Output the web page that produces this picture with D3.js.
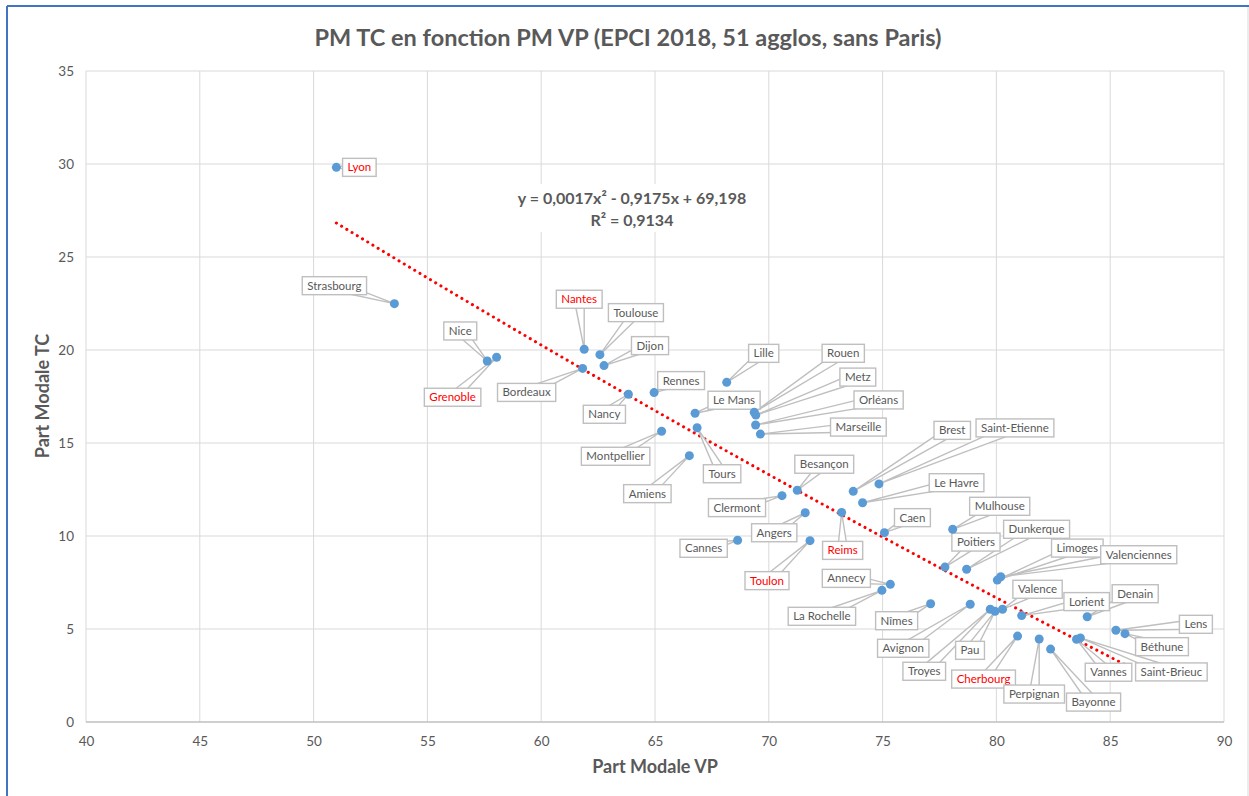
<!DOCTYPE html>
<html>
<head>
<meta charset="utf-8">
<script src="https://cdn.jsdelivr.net/npm/d3@7"></script>
<style>
    body { margin: 0; background: #fff; }
    svg { display: block; font-family: Lato, "Open Sans", sans-serif; }
</style>
</head>
<body>
<div id="chart"></div>
<script>
// ---------- data ----------
var cities = ["Lyon", "Strasbourg", "Nice", "Grenoble", "Nantes", "Toulouse", "Dijon", "Bordeaux", "Nancy", "Rennes",
    "Lille", "Le Mans", "Tours", "Montpellier", "Amiens", "Rouen", "Metz", "Orléans", "Marseille", "Besançon",
    "Clermont", "Angers", "Reims", "Cannes", "Toulon", "Annecy", "La Rochelle", "Nîmes", "Brest", "Saint-Etienne",
    "Le Havre", "Caen", "Mulhouse", "Poitiers", "Dunkerque", "Limoges", "Valenciennes", "Avignon", "Troyes", "Pau",
    "Valence", "Lorient", "Denain", "Cherbourg", "Perpignan", "Bayonne", "Vannes", "Saint-Brieuc", "Lens", "Béthune"];
var partVP = [51.0, 53.55, 57.63, 58.04, 61.89, 62.58, 62.76, 61.82, 63.83, 64.96,
    68.15, 66.76, 66.85, 65.29, 66.51, 69.36, 69.43, 69.42, 69.63, 71.25,
    70.58, 71.6, 73.2, 68.63, 71.81, 75.34, 74.97, 77.11, 73.71, 74.84,
    74.12, 75.08, 78.08, 77.74, 78.69, 80.04, 80.19, 78.85, 79.73, 79.94,
    80.27, 81.11, 83.99, 80.93, 81.88, 82.38, 83.52, 83.69, 85.25, 85.65];
var partTC = [29.82, 22.49, 19.41, 19.61, 20.04, 19.75, 19.16, 19.01, 17.62, 17.71,
    18.26, 16.6, 15.82, 15.63, 14.32, 16.65, 16.5, 15.97, 15.48, 12.46,
    12.17, 11.25, 11.27, 9.77, 9.75, 7.4, 7.08, 6.36, 12.4, 12.8,
    11.79, 10.18, 10.36, 8.33, 8.21, 7.63, 7.81, 6.33, 6.06, 5.95,
    6.06, 5.72, 5.66, 4.62, 4.46, 3.92, 4.45, 4.52, 4.93, 4.75];
var redCities = ["Lyon", "Nantes", "Grenoble", "Reims", "Toulon", "Cherbourg"];
var xTicks = [40, 45, 50, 55, 60, 65, 70, 75, 80, 85, 90];
var yTicks = [0, 5, 10, 15, 20, 25, 30, 35];
var trendCoef = [0.0017, -0.9175, 69.198]; // ax² + bx + c
var trendText = ["y = 0,0017x² - 0,9175x + 69,198", "R² = 0,9134"];

// callout placement (box centre relative to the point, in px)
var labelOffsets = {
    "Lyon": [23, 0], "Strasbourg": [-60, -18], "Nice": [-27, -30], "Grenoble": [-44, 40], "Nantes": [-5, -50],
    "Toulouse": [36, -42], "Dijon": [46, -20], "Bordeaux": [-56, 24], "Nancy": [-24, 20], "Rennes": [27, -12],
    "Lille": [37, -29], "Le Mans": [39, -13], "Tours": [25, 46], "Montpellier": [-46, 25], "Amiens": [-42, 38],
    "Rouen": [89, -59], "Metz": [102, -38], "Orléans": [123, -25], "Marseille": [98, -7], "Besançon": [27, -26],
    "Clermont": [-45, 12], "Angers": [-31, 20], "Reims": [1, 38], "Cannes": [-34, 8], "Toulon": [-43, 40],
    "Annecy": [-44, -6], "La Rochelle": [-60, 26], "Nîmes": [-34, 17], "Brest": [99, -61], "Saint-Etienne": [136, -56],
    "Le Havre": [94, -20], "Caen": [28, -15], "Mulhouse": [47, -23], "Poitiers": [31, -25], "Dunkerque": [70, -40],
    "Limoges": [80, -32], "Valenciennes": [138, -22], "Avignon": [-67, 44], "Troyes": [-66, 62], "Pau": [-25, 39],
    "Valence": [35, -20], "Lorient": [65, -14], "Denain": [48, -23], "Cherbourg": [-34, 43], "Perpignan": [-5, 55],
    "Bayonne": [43, 53], "Vannes": [32, 33], "Saint-Brieuc": [91, 34], "Lens": [80, -6], "Béthune": [37, 13]
};

// ---------- layout ----------
var W = 1249, H = 796;
var plot = { left: 86, right: 1224, top: 71, bottom: 722 };
var textGray = "#595959";

var svg = d3.select("#chart").append("svg")
    .attr("width", W)
    .attr("height", H);

// frame
svg.append("line").attr("x1", 7).attr("x2", W).attr("y1", 6).attr("y2", 6)
    .attr("stroke", "#4472C4").attr("stroke-width", 2);
svg.append("line").attr("x1", 7).attr("x2", 7).attr("y1", 6).attr("y2", H)
    .attr("stroke", "#4472C4").attr("stroke-width", 2);
svg.append("line").attr("x1", 1248).attr("x2", 1248).attr("y1", 7).attr("y2", H)
    .attr("stroke", "#D9D9D9").attr("stroke-width", 1);

var x = d3.scaleLinear().domain([40, 90]).range([plot.left, plot.right]);
var y = d3.scaleLinear().domain([0, 35]).range([plot.bottom, plot.top]);

// gridlines
svg.append("g")
    .selectAll("line.vgrid")
    .data(xTicks)
    .enter().append("line")
    .attr("x1", function (d) { return x(d); })
    .attr("x2", function (d) { return x(d); })
    .attr("y1", plot.top)
    .attr("y2", plot.bottom)
    .attr("stroke", "#D9D9D9")
    .attr("stroke-width", 1);
svg.append("g")
    .selectAll("line.hgrid")
    .data(yTicks)
    .enter().append("line")
    .attr("x1", plot.left)
    .attr("x2", plot.right)
    .attr("y1", function (d) { return y(d); })
    .attr("y2", function (d) { return y(d); })
    .attr("stroke", function (d) { return d === 0 ? "#BFBFBF" : "#D9D9D9"; })
    .attr("stroke-width", function (d) { return d === 0 ? 1.5 : 1; });

// axes (ticks only, lines drawn as grid)
var xAxis = svg.append("g")
    .attr("transform", "translate(0," + plot.bottom + ")")
    .call(d3.axisBottom(x).tickValues(xTicks).tickSize(0).tickPadding(14));
var yAxis = svg.append("g")
    .attr("transform", "translate(" + plot.left + ",0)")
    .call(d3.axisLeft(y).tickValues(yTicks).tickSize(0).tickPadding(12));
[xAxis, yAxis].forEach(function (a) {
    a.select(".domain").remove();
    a.selectAll("text")
        .attr("fill", textGray)
        .style("font-size", "13.5px")
        .style("font-family", "Lato, sans-serif");
});

// ---------- trendline ----------
var trend = function (v) { return trendCoef[0] * v * v + trendCoef[1] * v + trendCoef[2]; };
var xMin = d3.min(partVP), xMax = d3.max(partVP);
var trendPts = d3.range(0, 101).map(function (i) {
    var v = xMin + (xMax - xMin) * i / 100;
    return [v, trend(v)];
});
svg.append("path")
    .datum(trendPts)
    .attr("fill", "none")
    .attr("stroke", "#FF0000")
    .attr("stroke-width", 3)
    .attr("stroke-linecap", "round")
    .attr("stroke-dasharray", "0.1 6")
    .attr("d", d3.line()
        .x(function (d) { return x(d[0]); })
        .y(function (d) { return y(d[1]); }));

// equation label
var eq = svg.append("g");
eq.append("rect")
    .attr("x", 510).attr("y", 184).attr("width", 245).attr("height", 48)
    .attr("fill", "#fff");
eq.selectAll("text")
    .data(trendText)
    .enter().append("text")
    .attr("x", 632)
    .attr("y", function (d, i) { return 204 + i * 22; })
    .attr("text-anchor", "middle")
    .attr("fill", textGray)
    .style("font-size", "16px")
    .style("font-weight", "bold")
    .text(function (d) { return d; });

// ---------- callouts ----------
var points = cities.map(function (c, i) {
    return { name: c, vp: partVP[i], tc: partTC[i], off: labelOffsets[c] };
});

var leaders = svg.append("g");
var boxes = svg.append("g");

points.forEach(function (p) {
    var px = x(p.vp), py = y(p.tc);
    var cx = px + p.off[0], cy = py + p.off[1];

    var t = boxes.append("text")
        .attr("x", cx)
        .attr("y", cy + 4)
        .attr("text-anchor", "middle")
        .attr("fill", redCities.indexOf(p.name) >= 0 ? "#FF0000" : textGray)
        .style("font-size", "11.5px")
        .text(p.name);
    var bw = t.node().getComputedTextLength() + 10, bh = 18;
    boxes.insert("rect", function () { return t.node(); })
        .attr("x", cx - bw / 2)
        .attr("y", cy - bh / 2)
        .attr("width", bw)
        .attr("height", bh)
        .attr("fill", "#fff")
        .attr("stroke", "#BFBFBF")
        .attr("stroke-width", 1.4);

    // wedge from box centre to the point
    var dx = px - cx, dy = py - cy, len = Math.sqrt(dx * dx + dy * dy) || 1;
    var nx = -dy / len * 5, ny = dx / len * 5;
    leaders.append("path")
        .attr("d", "M" + (cx + nx) + "," + (cy + ny) + "L" + px + "," + py + "L" + (cx - nx) + "," + (cy - ny) + "Z")
        .attr("fill", "#fff")
        .attr("stroke", "#BFBFBF")
        .attr("stroke-width", 1.4)
        .attr("stroke-linejoin", "round");
});

// points
svg.append("g")
    .selectAll("circle")
    .data(points)
    .enter().append("circle")
    .attr("cx", function (d) { return x(d.vp); })
    .attr("cy", function (d) { return y(d.tc); })
    .attr("r", 4.5)
    .attr("fill", "#5B9BD5");

// ---------- titles ----------
svg.append("text")
    .attr("x", 628)
    .attr("y", 46)
    .attr("text-anchor", "middle")
    .attr("fill", textGray)
    .style("font-size", "23.5px")
    .style("font-weight", "bold")
    .text("PM TC en fonction PM VP (EPCI 2018, 51 agglos, sans Paris)");

svg.append("text")
    .attr("x", 655)
    .attr("y", 773)
    .attr("text-anchor", "middle")
    .attr("fill", textGray)
    .style("font-size", "18px")
    .style("font-weight", "bold")
    .text("Part Modale VP");

svg.append("text")
    .attr("transform", "translate(49,396) rotate(-90)")
    .attr("text-anchor", "middle")
    .attr("fill", textGray)
    .style("font-size", "18px")
    .style("font-weight", "bold")
    .text("Part Modale TC");
</script>
</body>
</html>
